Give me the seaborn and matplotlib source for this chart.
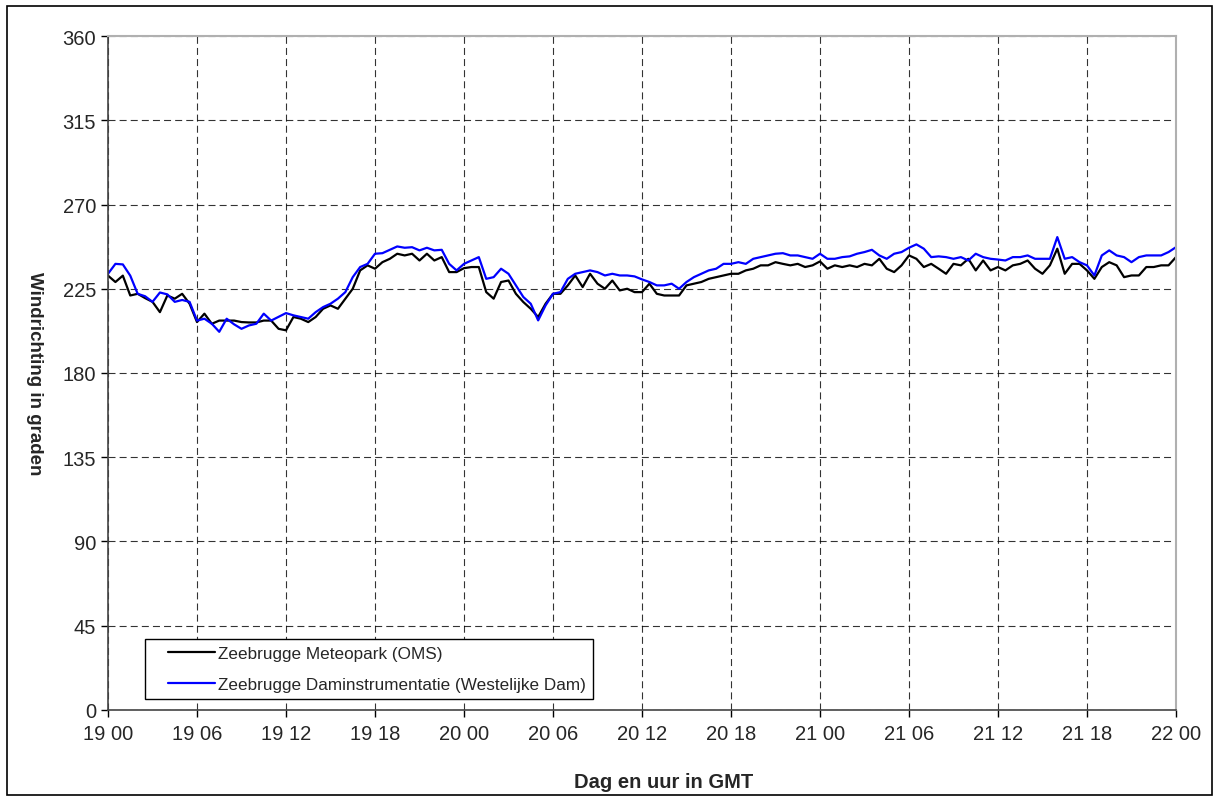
import numpy as np
import pandas as pd
import seaborn as sns
import matplotlib.pyplot as plt
from matplotlib.patches import Rectangle

# hours since 19 00 GMT, half-hourly readings
hours = np.arange(0, 72.5, 0.5)

meteopark = [
    232, 228.6, 232, 221.4, 222.3, 220, 218, 212.5, 221.4, 219.7, 222.3, 217,
    207.2, 211.7, 206.3, 208, 208, 208, 207.2, 207, 207, 208, 208, 203.6,
    202.8, 209.9, 209, 207.2, 209.9, 214.3, 216.1, 214.3, 219.7, 225, 234.8, 237.5,
    235.7, 239.2, 241, 243.7, 242.8, 243.7, 240.1, 243.7, 240.1, 241.9, 233.9, 233.9,
    236, 236.6, 236.6, 223.2, 219.7, 228.6, 229.4, 222.3, 217.9, 214.3, 209.9, 217,
    222.3, 222.3, 226.8, 232.1, 225.9, 233, 227.7, 225, 229.4, 224.1, 225, 223.2,
    223.2, 227.7, 222.3, 221.4, 221.4, 221.4, 226.8, 227.7, 228.6, 230.3, 231.2, 232.1,
    233, 233, 234.8, 235.7, 237.5, 237.5, 239.2, 238.3, 237.5, 238.3, 236.6, 237.5,
    239.6, 235.7, 237.5, 236.6, 237.5, 236.6, 238.3, 237.5, 241, 235.7, 233.9, 237.5,
    242.8, 241, 236.6, 238.3, 235.7, 233, 238.3, 237.5, 241, 234.8, 240.1, 234.8,
    236.6, 234.8, 237.5, 238.3, 240.1, 235.7, 233, 237.5, 246.4, 233, 238.3, 238.3,
    234.8, 230.3, 236.6, 239.2, 237.5, 231.2, 232.1, 232.1, 236.6, 236.6, 237.5, 237.5,
    241.9,
]

daminstr = [
    233, 238.3, 238, 232, 222.3, 221, 218, 223, 222, 218, 219, 218,
    208, 209, 206.3, 202, 209, 206, 203.6, 205.4, 206.3, 211.7, 208, 210,
    212, 210.8, 209.9, 209, 212.5, 215.2, 217, 219.7, 223.2, 231.2, 236.6, 238.3,
    243.7, 244, 245.8, 247.6, 246.9, 247.2, 245.5, 246.9, 245.5, 245.8, 238.3, 234.8,
    238.3, 240.1, 241.9, 230.3, 231.2, 235.7, 233, 226.8, 220.6, 217, 208.1, 216.1,
    222.3, 223.2, 230.3, 233, 233.9, 234.8, 233.9, 232.1, 233, 232.1, 232.1, 231.6,
    230, 228.6, 226.8, 226.8, 227.7, 225, 228.6, 231.2, 233, 234.8, 235.7, 238.3,
    238.3, 239.2, 238.3, 241, 241.9, 242.8, 243.7, 244, 242.8, 242.8, 241.9, 241,
    243.7, 241, 241, 241.9, 242.3, 243.7, 244.6, 245.8, 242.8, 241, 243.7, 244.6,
    246.9, 248.7, 246.4, 241.9, 242.3, 241.9, 241, 241.9, 240.1, 243.7, 241.9, 241,
    240.6, 240.1, 241.9, 241.9, 242.8, 241, 241, 241, 252.6, 241, 241.9, 239.2,
    237.5, 232.1, 242.8, 245.5, 242.8, 241.9, 239.2, 241.9, 242.8, 242.8, 242.8, 244.6,
    247.2,
]

series_names = [
    "Zeebrugge Meteopark (OMS)",
    "Zeebrugge Daminstrumentatie (Westelijke Dam)",
]
tick_hours = list(range(0, 73, 6))
tick_labels = ["19 00", "19 06", "19 12", "19 18", "20 00", "20 06", "20 12",
               "20 18", "21 00", "21 06", "21 12", "21 18", "22 00"]

df = pd.concat([
    pd.DataFrame({"uur": hours, "graden": meteopark, "reeks": series_names[0]}),
    pd.DataFrame({"uur": hours, "graden": daminstr, "reeks": series_names[1]}),
])

sns.set_style("white")
plt.rcParams["font.family"] = ["Liberation Sans", "DejaVu Sans"]

fig = plt.figure(figsize=(12.19, 8.03), dpi=100)
ax = fig.add_axes([0.0886, 0.1146, 0.8761, 0.8393])

sns.lineplot(
    data=df, x="uur", y="graden", hue="reeks",
    palette={series_names[0]: "black", series_names[1]: "#0000ff"},
    linewidth=1.6, ax=ax,
)

ax.set_xlim(0, 72)
ax.set_ylim(0, 360)
ax.set_xticks(tick_hours)
ax.set_xticklabels(tick_labels)
ax.set_yticks(range(0, 361, 45))
ax.tick_params(axis="both", labelsize=14.5, length=5, width=1, color="black",
               direction="out", left=True, bottom=True)
ax.tick_params(axis="x", pad=5)
ax.grid(True, color="black", linestyle=(0, (6.3, 3.7)), linewidth=0.8, alpha=0.8)

for side in ["left", "bottom"]:
    ax.spines[side].set_color("#444444")
    ax.spines[side].set_linewidth(1.2)
for side in ["top", "right"]:
    ax.spines[side].set_color("#b0b0b0")
    ax.spines[side].set_linewidth(1.5)

ax.set_xlabel("Dag en uur in GMT", fontsize=14.5, fontweight="bold")
# y label reads top to bottom in the original
ax.set_ylabel("Windrichting in graden", fontsize=13.5, fontweight="bold",
              rotation=270, va="center", ha="center")
ax.xaxis.set_label_coords(0.52, -0.092)
ax.yaxis.set_label_coords(-0.069, 0.5)

leg = ax.legend(loc="lower left", bbox_to_anchor=(0.0346, 0.0163), borderaxespad=0,
                title=None, fontsize=12.3, frameon=True, fancybox=False,
                handlelength=3.7, handletextpad=0.2, borderpad=0.4,
                labelspacing=0.95)
leg.get_frame().set_edgecolor("black")
leg.get_frame().set_linewidth(1.0)
leg.get_frame().set_alpha(1)
# legend lines start a bit further in from the frame, as in the original
for ln in leg.get_lines():
    xd = np.asarray(ln.get_xdata(), dtype=float)
    start = xd[0] + (xd[-1] - xd[0]) * 0.26
    ln.set_xdata(np.linspace(start, xd[-1], len(xd)))

fig.patches.append(Rectangle((0.006, 0.009), 0.988, 0.982, transform=fig.transFigure,
                             fill=False, edgecolor="black", linewidth=1.2))

fig.savefig("out.png", dpi=100)
